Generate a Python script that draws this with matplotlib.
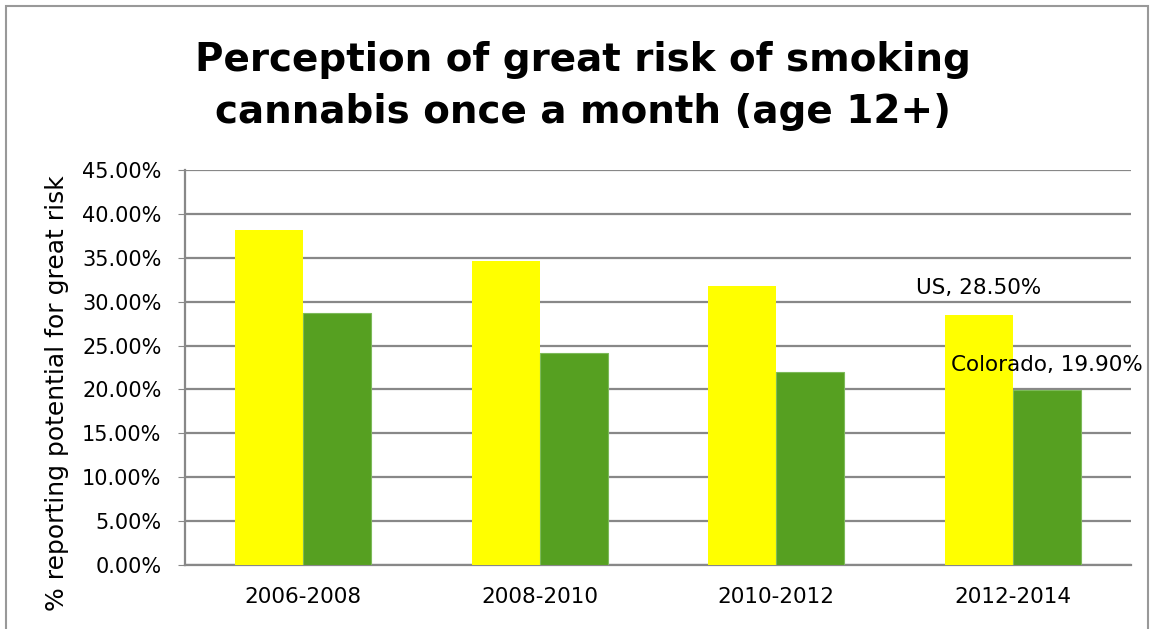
import numpy as np
import matplotlib.pyplot as plt
from matplotlib.patches import Rectangle

periods = ['2006-2008', '2008-2010', '2010-2012', '2012-2014']
us_values = [38.2, 34.6, 31.8, 28.5]
colorado_values = [28.7, 24.1, 22.0, 19.9]
y_ticks = [0, 5, 10, 15, 20, 25, 30, 35, 40, 45]


def main():
    fig = plt.figure(figsize=(11.54, 6.29), dpi=100)
    ax = fig.add_axes([185 / 1154, 1 - 565 / 629, 946 / 1154, 395 / 629])

    x = np.arange(len(periods))
    width = 0.288
    us_bars = ax.bar(x - width / 2, us_values, width, color='#FFFF00', zorder=3)
    co_bars = ax.bar(x + width / 2, colorado_values, width, color='#56A021',
                     edgecolor='#7DBA5A', linewidth=0.8, zorder=3)

    ax.set_xlim(-0.5, len(periods) - 0.5)
    ax.set_ylim(0, 45)
    ax.set_yticks(y_ticks)
    ax.set_yticklabels([f'{v:.2f}%' for v in y_ticks], fontsize=15)
    ax.set_xticks(x)
    ax.set_xticklabels(periods, fontsize=15.5)
    ax.tick_params(axis='x', length=0, pad=16)
    ax.tick_params(axis='y', length=5, color='#888888', pad=12)

    ax.grid(axis='y', color='#888888', linewidth=1.6, zorder=0)
    for side in ['top', 'right']:
        ax.spines[side].set_visible(False)
    for side in ['left', 'bottom']:
        ax.spines[side].set_color('#888888')
        ax.spines[side].set_linewidth(1.6)

    ax.set_ylabel('% reporting potential for great risk', fontsize=18, va='center')
    ax.yaxis.set_label_coords(-0.135, 0.435)

    # data labels on the last period
    ax.annotate(f'US, {us_values[-1]:.2f}%',
                xy=(us_bars[-1].get_x() + width / 2, us_values[-1]),
                xytext=(0, 27), textcoords='offset pixels',
                ha='center', va='center', fontsize=15.5, zorder=4)
    ax.annotate(f'Colorado, {colorado_values[-1]:.2f}%',
                xy=(co_bars[-1].get_x() + width / 2, colorado_values[-1]),
                xytext=(0, 25), textcoords='offset pixels',
                ha='center', va='center', fontsize=15.5, zorder=4,
                annotation_clip=False)

    fig.text(583 / 1154, 1 - 86 / 629,
             'Perception of great risk of smoking\ncannabis once a month (age 12+)',
             ha='center', va='center', fontsize=28, fontweight='bold',
             linespacing=1.45)

    # outer chart border
    fig.patches.append(Rectangle((6 / 1154, -0.05), 1142 / 1154, 1.05 - 6 / 629,
                                 transform=fig.transFigure, fill=False,
                                 edgecolor='#999999', linewidth=1.5))

    fig.savefig('out.png', dpi=100)


if __name__ == "__main__":
    main()
